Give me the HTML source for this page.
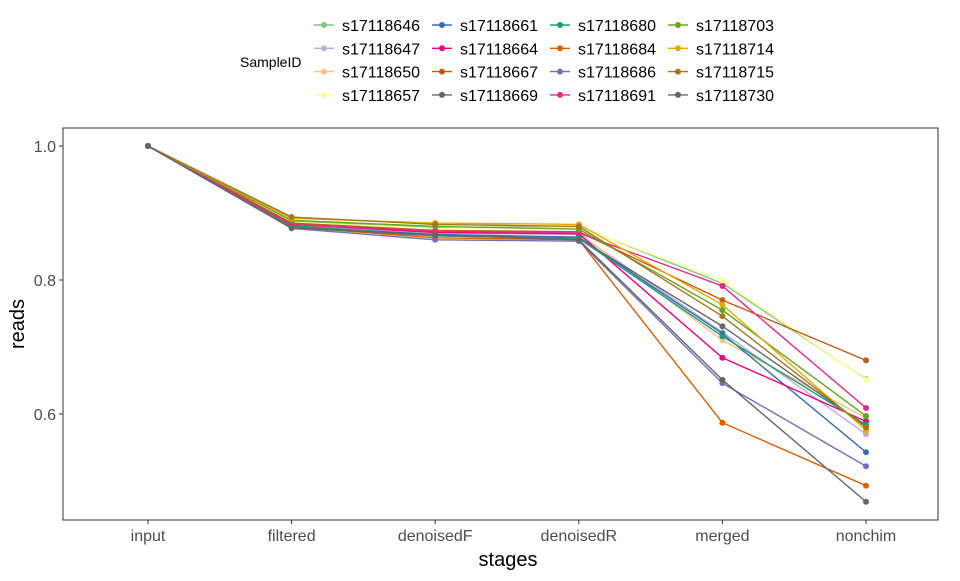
<!DOCTYPE html>
<html><head><meta charset="utf-8"><style>
body{margin:0;background:#fff;font-family:"Liberation Sans",sans-serif}
svg text{font-family:"Liberation Sans",sans-serif}
</style></head><body>
<svg id="chart" width="960" height="576">
<g id="legend"></g>
<rect x="63" y="128" width="875" height="392" fill="none" stroke="#333" stroke-width="1"/>
<g id="axes"></g><g id="marks"></g>
</svg>
<script>
const stages=["input","filtered","denoisedF","denoisedR","merged","nonchim"];
const samples=["s17118646","s17118647","s17118650","s17118657","s17118661","s17118664","s17118667","s17118669","s17118680","s17118684","s17118686","s17118691","s17118703","s17118714","s17118715","s17118730"];
const colors=["#7FC97F","#BEAED4","#FDC086","#FFFF99","#386CB0","#F0027F","#BF5B17","#666666","#1B9E77","#D95F02","#7570B3","#E7298A","#66A61E","#E6AB02","#A6761D","#666666"];
const yTicks=[0.6,0.8,1.0];
const s17118646=[1,0.887,0.878,0.880,0.795,0.652];
const s17118647=[1,0.882,0.870,0.868,0.722,0.570];
const s17118650=[1,0.884,0.872,0.870,0.710,0.594];
const s17118657=[1,0.886,0.877,0.879,0.799,0.651];
const s17118661=[1,0.880,0.868,0.864,0.720,0.543];
const s17118664=[1,0.883,0.871,0.869,0.684,0.589];
const s17118667=[1,0.885,0.874,0.872,0.770,0.680];
const s17118669=[1,0.878,0.866,0.862,0.731,0.582];
const s17118680=[1,0.881,0.866,0.862,0.716,0.584];
const s17118684=[1,0.879,0.863,0.860,0.587,0.493];
const s17118686=[1,0.877,0.860,0.858,0.646,0.522];
const s17118691=[1,0.883,0.873,0.870,0.791,0.609];
const s17118703=[1,0.889,0.880,0.876,0.755,0.597];
const s17118714=[1,0.892,0.885,0.883,0.763,0.576];
const s17118715=[1,0.894,0.883,0.880,0.746,0.580];
const s17118730=[1,0.878,0.867,0.860,0.651,0.469];
const series=[s17118646,s17118647,s17118650,s17118657,s17118661,s17118664,s17118667,s17118669,s17118680,s17118684,s17118686,s17118691,s17118703,s17118714,s17118715,s17118730];
const NS="http://www.w3.org/2000/svg";
const xS=i=>148+i*143.6;
const yS=v=>146+(1-v)*670;
function mk(t,a,p){const e=document.createElementNS(NS,t);for(const k in a)e.setAttribute(k,a[k]);p.appendChild(e);return e;}
const axes=document.getElementById('axes'),marks=document.getElementById('marks'),leg=document.getElementById('legend');
yTicks.forEach(v=>{
 const t=mk('text',{x:56,y:yS(v)+6,'text-anchor':'end','font-size':16,fill:'#4d4d4d'},axes);t.textContent=v.toFixed(1);
 
 
 mk('line',{x1:59,x2:63,y1:yS(v),y2:yS(v),stroke:'#333'},axes);
});
stages.forEach((s,i)=>{
 const t=mk('text',{x:xS(i),y:541,'text-anchor':'middle','font-size':16,fill:'#4d4d4d'},axes);t.textContent=s;
 
 
 mk('line',{x1:xS(i),x2:xS(i),y1:520,y2:524,stroke:'#333'},axes);
});
let t=mk('text',{x:508,y:566,'text-anchor':'middle','font-size':20,fill:'#000'},axes);t.textContent='stages';


t=mk('text',{x:0,y:0,transform:'translate(24,324) rotate(-90)','text-anchor':'middle','font-size':20,fill:'#000'},axes);t.textContent='reads';


series.forEach((d,k)=>{
 const g=mk('g',{},marks);
 
 
 mk('polyline',{points:d.map((v,i)=>xS(i)+','+yS(v)).join(' '),fill:'none',stroke:colors[k],'stroke-width':1.4},g);
 d.forEach((v,i)=>mk('circle',{cx:xS(i),cy:yS(v),r:3,fill:colors[k]},g));
});
t=mk('text',{x:240,y:67,'font-size':14,fill:'#000'},leg);t.textContent='SampleID';


samples.forEach((s,k)=>{
 const c=Math.floor(k/4),r=k%4,x=314+c*118,y=25+r*23.3;
 const g=mk('g',{},leg);
 
 
 mk('line',{x1:x,x2:x+20,y1:y,y2:y,stroke:colors[k],'stroke-width':1.4},g);
 mk('circle',{cx:x+10,cy:y,r:3,fill:colors[k]},g);
 const tt=mk('text',{x:x+28,y:y+6,'font-size':16,fill:'#000'},g);tt.textContent=s;
});
</script>
</body></html>
